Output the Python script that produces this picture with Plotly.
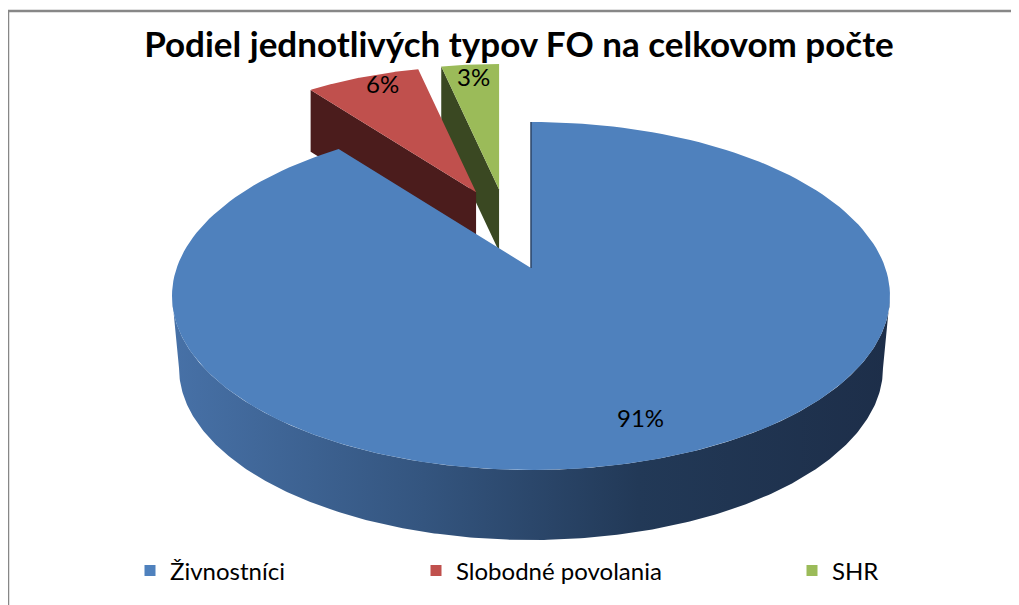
import numpy as np
import plotly.graph_objects as go

# ---- data ----
categories = ["Živnostníci", "Slobodné povolania", "SHR"]
values = [91, 6, 3]
title_text = "Podiel jednotlivých typov FO na celkovom počte"

# ---- styles ----
top_colors = ["#4f81bd", "#c0504d", "#9bbb59"]
side_colors = ["#3f679b", "#4b1c1c", "#3a4822"]
FONT = "Lato"

W, H = 1019, 605
OFF = 8  # page body margin: screen px = figure px + OFF
# geometry of the 3-D pie (screen pixel space)
CX, CY, RX, RY = 531, 296, 359, 174        # top ellipse
CXB, CYB, RXB, RYB = 531, 368, 352, 172    # bottom ellipse
APEX = np.array([531.0, 268.0])
DEPTH = 72
PULL = [0.0, 0.234, 0.234]
LIFT = np.array([-24.0, -38.0])
SCALE = [1.0, 0.86, 0.86]


def px(x):
    return (x - OFF) / W


def py(y):
    return 1 - (y - OFF) / H


def ell(theta, cx=CX, cy=CY, rx=RX, ry=RY):
    t = np.radians(theta)
    return np.array([cx + rx * np.cos(t), cy - ry * np.sin(t)])


total = float(sum(values))
fracs = [v / total for v in values]
starts, ends = [], []
acc = 0.0
for f in fracs:
    a0 = 90 - acc * 360
    a1 = a0 - f * 360
    starts.append(a0)
    ends.append(a1)
    acc += f

fig = go.Figure()


def poly(pts, color, **kw):
    pts = np.array(pts)
    fig.add_trace(go.Scatter(
        x=pts[:, 0], y=pts[:, 1], mode="lines", fill="toself",
        fillcolor=color, line=dict(width=0, color=color),
        hoverinfo="skip", showlegend=False, **kw))


label_pos = []
geo = {}
for i in range(len(values)):
    mid = (starts[i] + ends[i]) / 2
    if PULL[i] > 0:
        apex = APEX + PULL[i] * np.array([RX * np.cos(np.radians(mid)),
                                          -RY * np.sin(np.radians(mid))]) + LIFT
    else:
        apex = APEX.copy()
    s = SCALE[i]

    def tr(q, apex=apex, s=s):
        return apex + s * (q - APEX)

    thetas = np.linspace(starts[i], ends[i], 200)
    arc = [tr(ell(t)) for t in thetas]
    geo[i] = (apex, s, arc, tr)
    label_pos.append((apex, tr(ell(mid)), mid))

# exploded slices first (behind), green then red
for i in [2, 1]:
    apex, s, arc, tr = geo[i]
    d = DEPTH * s
    e0 = tr(ell(starts[i]))
    side = [apex, e0, e0 + [0, d], apex + [0, d], apex]
    poly(side, side_colors[i])
    poly([apex] + arc + [apex], top_colors[i])

# blue slice: outer wall with gradient, then top face
th = np.linspace(0, -180, 300)
wall = [ell(t) for t in th] + [ell(t, CXB, CYB, RXB, RYB) for t in th[::-1]]
wall = np.array(wall + [wall[0]])
fig.add_trace(go.Scatter(
    x=wall[:, 0], y=wall[:, 1], mode="lines", fill="toself",
    fillgradient=dict(type="horizontal", start=CX - RX, stop=CX + RX,
                      colorscale=[[0, "#4771a7"], [0.35, "#34557f"],
                                  [0.65, "#223957"], [1, "#1d2e49"]]),
    line=dict(width=0), hoverinfo="skip", showlegend=False))
apex, s, arc, tr = geo[0]
poly([apex] + arc + [apex], top_colors[0])
edge = np.array([apex, ell(90)])
fig.add_trace(go.Scatter(x=edge[:, 0], y=edge[:, 1], mode="lines",
                         line=dict(width=1.5, color="#2b4567"),
                         hoverinfo="skip", showlegend=False))

# data labels
label_frac = [0.75, 0.88, 0.88]
nudge = [np.array([34.0, 3.0]), np.array([6.0, -7.0]), np.array([0.0, -3.0])]
for i, (apex, outer, mid) in enumerate(label_pos):
    p = apex + label_frac[i] * (outer - apex) + nudge[i]
    fig.add_annotation(x=p[0], y=p[1], text=f"{round(fracs[i]*100)}%",
                       showarrow=False, xref="x", yref="y",
                       font=dict(family=FONT, size=24, color="#000000"))

# legend entries, one legend per category (left edge in screen px)
legend_x = [130, 416, 792]
for i, name in enumerate(categories):
    lk = "legend" if i == 0 else f"legend{i+1}"
    fig.add_trace(go.Scatter(
        x=[None], y=[None], mode="markers", name=name,
        marker=dict(symbol="square", size=11, color=top_colors[i]),
        legend=lk, showlegend=True))
    fig.layout[lk] = dict(x=px(legend_x[i]), y=py(571), xanchor="left",
                          yanchor="middle", orientation="h",
                          bgcolor="rgba(0,0,0,0)",
                          font=dict(family=FONT, size=24, color="#000000"))

# frame lines
fig.add_shape(type="line", xref="paper", yref="paper",
              x0=px(7), x1=1.02, y0=py(11), y1=py(11),
              line=dict(color="#878787", width=2.5))
fig.add_shape(type="line", xref="paper", yref="paper",
              x0=px(8), x1=px(8), y0=py(10), y1=-0.02,
              line=dict(color="#878787", width=2.5))

fig.update_layout(
    width=W, height=H,
    margin=dict(l=0, r=0, t=0, b=0),
    paper_bgcolor="white", plot_bgcolor="white",
    title=dict(text=title_text, x=px(519), xanchor="center",
               y=py(45), yanchor="middle",
               font=dict(family=FONT, size=35, color="#000000", weight="bold")),
    xaxis=dict(range=[OFF, W + OFF], visible=False, fixedrange=True, domain=[0, 1]),
    yaxis=dict(range=[H + OFF, OFF], visible=False, fixedrange=True, domain=[0, 1]),
)

fig.write_html("out.html")
